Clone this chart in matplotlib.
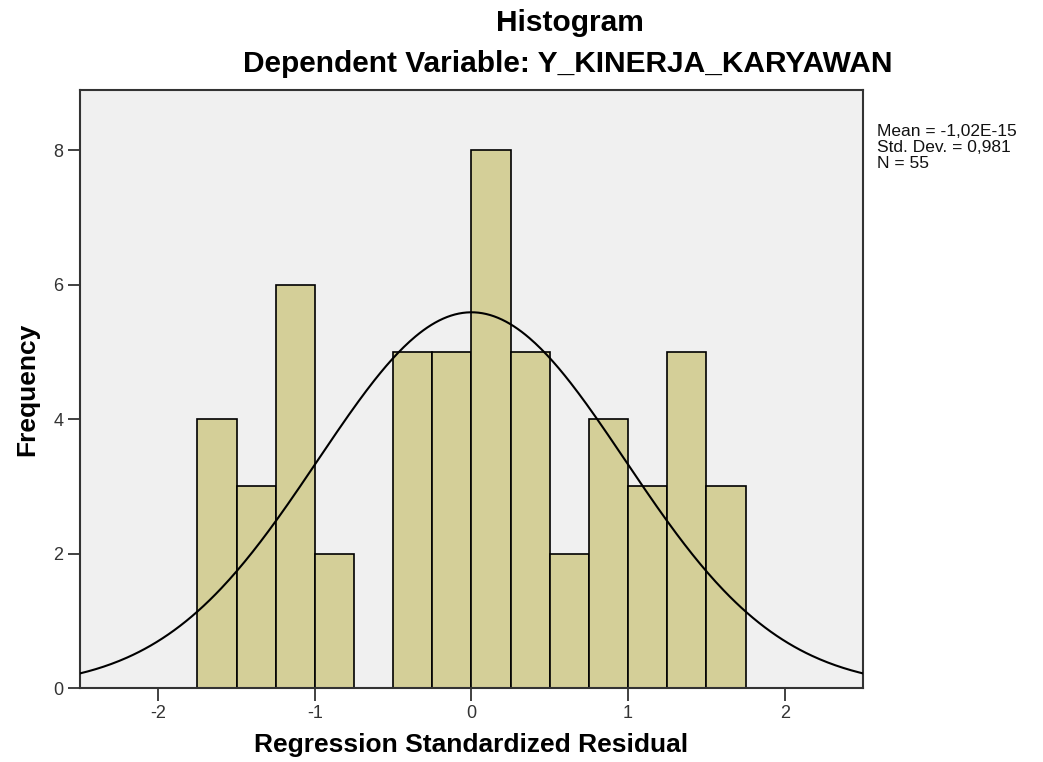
import matplotlib
matplotlib.use("Agg")
import matplotlib.pyplot as plt
import numpy as np

plt.rcParams['font.family'] = ['Liberation Sans', 'DejaVu Sans']
plt.rcParams['axes.unicode_minus'] = False

# histogram bins (left edges, width 0.25) and counts
bin_edges = [-1.75, -1.5, -1.25, -1.0, -0.75, -0.5, -0.25, 0.0, 0.25, 0.5, 0.75, 1.0, 1.25, 1.5, 1.75]
counts = [4, 3, 6, 2, 0, 5, 5, 8, 5, 2, 4, 3, 5, 3]

mean = -1.02e-15
std_dev = 0.981
n = 55

bar_color = '#D4CF98'
bg_color = '#F0F0F0'

fig = plt.figure(figsize=(10.43, 7.62), dpi=100)
ax = fig.add_axes([0.0767, 0.0971, 0.7507, 0.7848])
ax.set_facecolor(bg_color)

widths = np.diff(bin_edges)
ax.bar(bin_edges[:-1], counts, width=widths, align='edge',
       color=bar_color, edgecolor='black', linewidth=1.2, zorder=2)

# normal curve
xs = np.linspace(-2.5, 2.5, 400)
ys = n * 0.25 / (std_dev * np.sqrt(2 * np.pi)) * np.exp(-(xs - mean) ** 2 / (2 * std_dev ** 2))
ax.plot(xs, ys, color='black', linewidth=1.5, zorder=3)

ax.set_xlim(-2.5, 2.5)
ax.set_ylim(0, 8.9)
ax.set_xticks([-2, -1, 0, 1, 2])
ax.set_yticks([0, 2, 4, 6, 8])
ax.tick_params(axis='both', length=9, width=1.3, color='#333333',
               labelsize=13, labelcolor='#333333', pad=3)

for s in ax.spines.values():
    s.set_color('#333333')
    s.set_linewidth(1.5)

ax.set_xlabel("Regression Standardized Residual", fontsize=19, fontweight='bold')
ax.xaxis.set_label_coords(0.5, -0.095)
ax.xaxis.label.set_va('center')
ax.set_ylabel("Frequency", fontsize=19, fontweight='bold', labelpad=10)

fig.text(570 / 1043, 1 - 23 / 762, "Histogram", fontsize=21.5, fontweight='bold',
         ha='center', va='center')
fig.text(568 / 1043, 1 - 64 / 762, "Dependent Variable: Y_KINERJA_KARYAWAN", fontsize=21.5,
         fontweight='bold', ha='center', va='center')

fig.text(877 / 1043, 1 - 124 / 762, "Mean = -1,02E-15\nStd. Dev. = 0,981\nN = 55",
         fontsize=12.5, ha='left', va='top', linespacing=1.1, color='#111111')

fig.savefig("out.png", dpi=100, facecolor='white')
